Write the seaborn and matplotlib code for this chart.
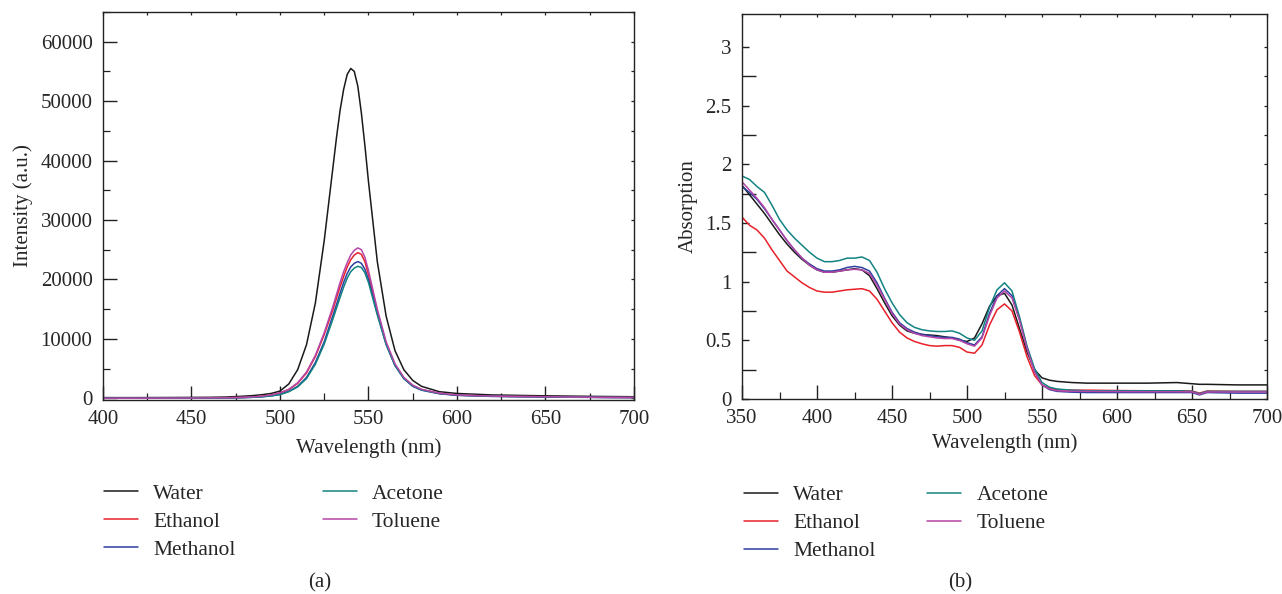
import numpy as np
import pandas as pd
import matplotlib
matplotlib.use("Agg")
import matplotlib.pyplot as plt
from matplotlib.ticker import MultipleLocator, FixedLocator, FuncFormatter, NullFormatter
import seaborn as sns

solvents = ["Water", "Ethanol", "Methanol", "Acetone", "Toluene"]
colors = {"Water": "#1a1a1a", "Ethanol": "#e8202a", "Methanol": "#2b3f9e",
          "Acetone": "#138282", "Toluene": "#b545a8"}

# ---- (a) emission spectra ----
wl_em = [400, 420, 440, 460, 470, 480, 485, 490, 495, 500, 505, 510, 515, 520, 525,
         530, 532, 534, 536, 538, 540, 542, 544, 546, 548, 550, 555, 560, 565, 570, 575, 580, 590,
         600, 620, 650, 680, 700]
em_water = [100, 100, 120, 150, 200, 350, 450, 600, 800, 1200, 2400, 4800, 9000, 16000, 26500,
            39000, 44000, 48500, 52000, 54500, 55500, 55000, 52500, 48000, 42500, 36500, 23000, 13800, 8000, 4800, 3000, 2000, 1100,
            800, 550, 400, 300, 250]
em_ethanol = [0, 0, 20, 50, 80, 140, 210, 330, 520, 870, 1450, 2500, 4250, 7000, 10700,
              15000, 16900, 18800, 20500, 22100, 23300, 24100, 24500, 24200, 23000, 20800, 14500, 9200, 5600, 3400, 2100, 1450, 820,
              530, 340, 240, 150, 120]
em_methanol = [0, 0, 10, 30, 60, 110, 160, 250, 400, 650, 1150, 2000, 3500, 6000, 9500,
               14000, 15800, 17700, 19500, 21000, 22100, 22700, 23000, 22700, 21700, 20000, 14300, 9100, 5500, 3300, 2000, 1350, 750,
               480, 300, 200, 130, 100]
em_acetone = [0, 0, 10, 30, 60, 110, 160, 240, 380, 600, 1100, 1900, 3300, 5700, 9100,
              13400, 15200, 17000, 18700, 20200, 21300, 21900, 22200, 22000, 21100, 19500, 14000, 9000, 5500, 3300, 2100, 1400, 800,
              520, 340, 230, 150, 120]
em_toluene = [0, 0, 20, 50, 80, 150, 220, 350, 550, 900, 1500, 2600, 4400, 7200, 11000,
              15500, 17500, 19500, 21300, 22800, 24100, 24900, 25300, 25000, 23700, 21500, 15000, 9500, 5800, 3500, 2200, 1500, 850,
              550, 350, 250, 150, 120]

# ---- (b) absorption spectra ----
wl_abs = [350, 355, 360, 365, 370, 375, 380, 385, 390, 395, 400, 405, 410, 415, 420, 425, 430, 435,
          440, 445, 450, 455, 460, 465, 470, 475, 480, 485, 490, 495, 500, 505, 510, 515, 520, 525,
          530, 535, 540, 545, 550, 555, 560, 570, 580, 600, 620, 640, 650, 655, 660, 680, 700]
ab_water = [1.82, 1.74, 1.66, 1.58, 1.49, 1.40, 1.32, 1.25, 1.19, 1.14, 1.10, 1.08, 1.08, 1.09, 1.10, 1.11, 1.10, 1.05,
            0.94, 0.82, 0.71, 0.63, 0.58, 0.56, 0.55, 0.545, 0.54, 0.53, 0.52, 0.50, 0.49, 0.52, 0.64, 0.79, 0.88, 0.90,
            0.80, 0.60, 0.40, 0.25, 0.18, 0.16, 0.15, 0.14, 0.135, 0.135, 0.135, 0.14, 0.13, 0.125, 0.125, 0.12, 0.12]
ab_ethanol = [1.55, 1.48, 1.44, 1.37, 1.27, 1.18, 1.09, 1.04, 0.99, 0.95, 0.92, 0.91, 0.91, 0.92, 0.93, 0.935, 0.94, 0.92,
              0.85, 0.75, 0.65, 0.57, 0.52, 0.49, 0.47, 0.455, 0.45, 0.455, 0.455, 0.44, 0.40, 0.39, 0.46, 0.63, 0.76, 0.81,
              0.75, 0.57, 0.36, 0.20, 0.12, 0.09, 0.08, 0.075, 0.075, 0.072, 0.07, 0.07, 0.068, 0.05, 0.068, 0.065, 0.065]
ab_methanol = [1.81, 1.76, 1.70, 1.62, 1.53, 1.44, 1.35, 1.27, 1.20, 1.15, 1.11, 1.09, 1.09, 1.10, 1.12, 1.13, 1.12, 1.09,
               0.99, 0.86, 0.74, 0.65, 0.60, 0.57, 0.55, 0.54, 0.53, 0.525, 0.525, 0.51, 0.48, 0.46, 0.53, 0.73, 0.88, 0.94,
               0.88, 0.68, 0.44, 0.24, 0.12, 0.08, 0.065, 0.058, 0.055, 0.055, 0.055, 0.055, 0.055, 0.035, 0.055, 0.05, 0.05]
ab_acetone = [1.90, 1.87, 1.81, 1.76, 1.65, 1.53, 1.44, 1.37, 1.31, 1.25, 1.20, 1.17, 1.17, 1.18, 1.20, 1.20, 1.21, 1.18,
              1.08, 0.94, 0.82, 0.72, 0.65, 0.61, 0.59, 0.58, 0.575, 0.575, 0.58, 0.56, 0.52, 0.50, 0.58, 0.78, 0.93, 0.99,
              0.92, 0.70, 0.45, 0.26, 0.14, 0.10, 0.085, 0.075, 0.07, 0.07, 0.07, 0.07, 0.065, 0.045, 0.065, 0.065, 0.065]
ab_toluene = [1.85, 1.78, 1.71, 1.63, 1.53, 1.44, 1.35, 1.27, 1.20, 1.14, 1.10, 1.08, 1.08, 1.09, 1.10, 1.105, 1.10, 1.07,
              0.97, 0.85, 0.73, 0.64, 0.59, 0.56, 0.54, 0.53, 0.52, 0.515, 0.515, 0.50, 0.47, 0.45, 0.52, 0.71, 0.86, 0.92,
              0.86, 0.67, 0.43, 0.23, 0.12, 0.085, 0.07, 0.065, 0.065, 0.063, 0.062, 0.062, 0.06, 0.04, 0.06, 0.06, 0.06]

em_series = dict(zip(solvents, [em_water, em_ethanol, em_methanol, em_acetone, em_toluene]))
ab_series = dict(zip(solvents, [ab_water, ab_ethanol, ab_methanol, ab_acetone, ab_toluene]))

df_em = pd.concat([pd.DataFrame({"wl": wl_em, "val": em_series[s], "Solvent": s}) for s in solvents])
df_ab = pd.concat([pd.DataFrame({"wl": wl_abs, "val": ab_series[s], "Solvent": s}) for s in solvents])

sns.set_style("ticks")
plt.rcParams["font.family"] = ["Liberation Serif", "DejaVu Serif"]
FS = 15

fig = plt.figure(figsize=(12.82, 5.94), dpi=100)
ax1 = fig.add_axes([0.0803, 0.3266, 0.4142, 0.6532])
ax2 = fig.add_axes([0.5788, 0.3283, 0.4095, 0.6481])

for ax, df in [(ax1, df_em), (ax2, df_ab)]:
    sns.lineplot(data=df, x="wl", y="val", hue="Solvent", hue_order=solvents,
                 palette=colors, linewidth=1.1, estimator=None, sort=True, ax=ax)
    for sp in ax.spines.values():
        sp.set_linewidth(1.0)
        sp.set_color("#222222")
    ax.tick_params(which="both", direction="in", top=False, right=False,
                   labelsize=FS, color="#222222")
    ax.tick_params(axis="x", which="major", length=10, width=1.0, pad=7.5)
    ax.tick_params(axis="x", which="minor", length=5, width=0.9)
    ax.tick_params(axis="y", which="both", pad=7.5)
    ax.xaxis.set_major_locator(MultipleLocator(50))
    ax.xaxis.set_minor_locator(MultipleLocator(25))

ax1.set_xlabel("Wavelength (nm)", fontsize=FS, labelpad=6.5)
ax2.set_xlabel("Wavelength (nm)", fontsize=FS, labelpad=3.6)

ax1.set_xlim(400, 700)
ax1.set_ylim(-300, 65000)
ax1.yaxis.set_major_locator(MultipleLocator(10000))
ax1.yaxis.set_minor_locator(MultipleLocator(5000))
ax1.tick_params(axis="y", which="major", length=10, width=1.0)
ax1.tick_params(axis="y", which="minor", length=5, width=0.9)
ax1.set_ylabel("Intensity (a.u.)", fontsize=FS, labelpad=5.5)

abs_minor = [0.25, 0.75, 1.25, 1.75, 2.25, 2.75]
ax2.set_xlim(350, 700)
ax2.set_ylim(0, 3.28)
ax2.yaxis.set_major_locator(MultipleLocator(0.5))
ax2.yaxis.set_minor_locator(FixedLocator(abs_minor))
ax2.yaxis.set_major_formatter(FuncFormatter(lambda v, p: "%g" % v))
ax2.tick_params(axis="y", which="major", length=5, width=1.0)
ax2.tick_params(axis="y", which="minor", length=10, width=1.0)
ax2.set_ylabel("Absorption", fontsize=FS, labelpad=5.5)

# short ticks on the top and right spines
for ax, ymaj, yminloc in [(ax1, 10000, MultipleLocator(5000)), (ax2, 0.5, FixedLocator(abs_minor))]:
    top = ax.secondary_xaxis("top")
    top.xaxis.set_major_locator(MultipleLocator(50))
    top.xaxis.set_minor_locator(MultipleLocator(25))
    top.xaxis.set_major_formatter(NullFormatter())
    top.tick_params(which="both", direction="in", length=2.2, width=0.9, color="#222222")
    top.spines["top"].set_visible(False)
    right = ax.secondary_yaxis("right")
    right.yaxis.set_major_locator(MultipleLocator(ymaj))
    right.yaxis.set_minor_locator(yminloc)
    right.yaxis.set_major_formatter(NullFormatter())
    right.tick_params(which="both", direction="in", length=2.2, width=0.9, color="#222222")
    right.spines["right"].set_visible(False)

for ax, bx, by, cs in [(ax1, -0.014, -0.194, 4.05), (ax2, -0.012, -0.201, 2.4)]:
    sns.move_legend(ax, "upper left", bbox_to_anchor=(bx, by), ncol=2,
                    frameon=False, title=None, fontsize=15.5, handlelength=1.58,
                    handletextpad=0.7, columnspacing=cs, labelspacing=0.37,
                    borderaxespad=0)

fig.text(0.2496, 0.011, "(a)", ha="center", fontsize=FS)
fig.text(0.7486, 0.011, "(b)", ha="center", fontsize=FS)

fig.savefig("out.png", dpi=100)
